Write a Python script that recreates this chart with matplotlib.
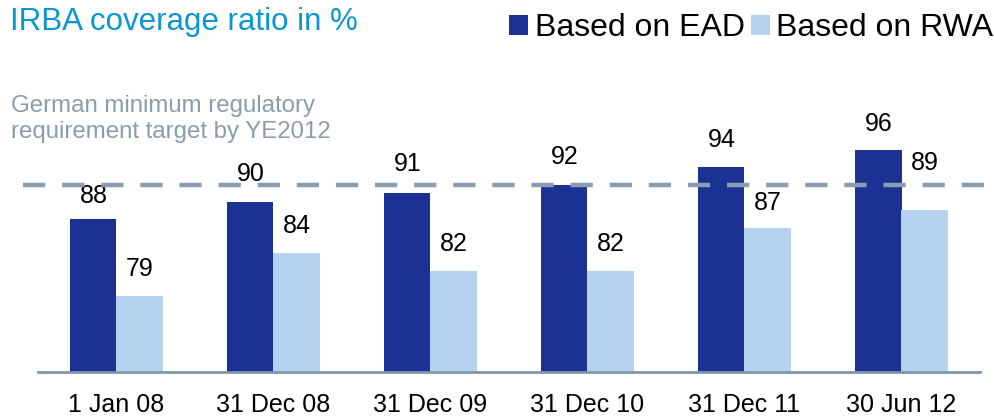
import numpy as np
import matplotlib.pyplot as plt

plt.rcParams['font.family'] = ['Liberation Sans', 'DejaVu Sans']

dates = ['1 Jan 08', '31 Dec 08', '31 Dec 09', '31 Dec 10', '31 Dec 11', '30 Jun 12']
ead = [88, 90, 91, 92, 94, 96]
rwa = [79, 84, 82, 82, 87, 89]
target = 92

dark = '#1b3295'
light = '#b5d2ef'
grey = '#8a9cb0'

W, H = 995, 419
fig = plt.figure(figsize=(W / 100, H / 100), dpi=100)
# axes box in pixels: x 38..980, bottom at y=372
ax = fig.add_axes([38 / W, (H - 372) / H, (980 - 38) / W, 258 / H])

x = np.arange(len(dates))
bw = 0.293
b1 = ax.bar(x - bw / 2, ead, bw, color=dark, label='Based on EAD')
b2 = ax.bar(x + bw / 2, rwa, bw, color=light, label='Based on RWA')

# label offsets (points above bar top); a couple nudged around the dashed line
off_ead = [16.5, 20, 21, 20, 20, 19]
off_rwa = [20, 20, 19, 19, 18, 34]
for xs, vals, offs in [(x - bw / 2, ead, off_ead), (x + bw / 2, rwa, off_rwa)]:
    for xi, v, o in zip(xs, vals, offs):
        ax.annotate(str(v), (xi, v), xytext=(0, o), textcoords='offset points',
                    ha='center', va='center', fontsize=18, annotation_clip=False)

ax.set_ylim(70.2, 100.2)
ax.set_xlim(-0.5, 5.5)

ax.axhline(target, xmin=-0.016, xmax=1.011, color=grey, lw=3.2,
           dashes=(5, 3.8), clip_on=False, zorder=3)

for s in ['top', 'right', 'left']:
    ax.spines[s].set_visible(False)
ax.spines['bottom'].set_color('#8096aa')
ax.spines['bottom'].set_linewidth(2)
ax.set_yticks([])
ax.set_xticks(x)
ax.set_xticklabels(dates, fontsize=18)
ax.tick_params(axis='x', length=0, pad=15)

fig.text(10 / W, 1 - 22 / H, 'IRBA coverage ratio in %', color='#0a96d2',
         fontsize=22.5, va='center', ha='left')
fig.text(11 / W, 1 - 119 / H, 'German minimum regulatory\nrequirement target by YE2012',
         color=grey, fontsize=17.3, va='center', ha='left', linespacing=1.22)

fig.legend(handles=[b1, b2], loc='upper right', bbox_to_anchor=(1000 / W, 1 - 7 / H),
           ncol=2, frameon=False, fontsize=23, handlelength=0.6, handleheight=0.6,
           handletextpad=0.2, columnspacing=0.2, borderaxespad=0, borderpad=0.2)

fig.savefig('out.png', dpi=100)
